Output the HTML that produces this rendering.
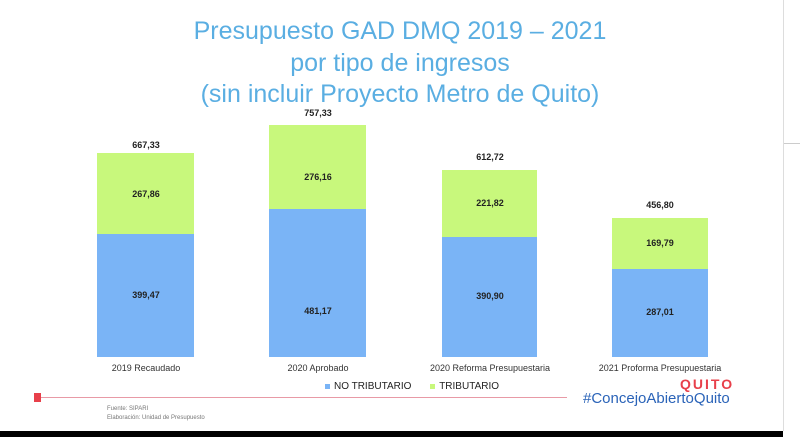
<!DOCTYPE html>
<html><head><meta charset="utf-8"><style>
body{margin:0;width:800px;height:437px;background:#fff;position:relative;overflow:hidden;font-family:"Liberation Sans",sans-serif}
.t{position:absolute;left:150px;width:500px;text-align:center;color:#5aaee2;font-size:25px;white-space:nowrap}
.b{position:absolute}
.g{background:#c8f87c}.bl{background:#7ab4f6}
.v{position:absolute;width:120px;text-align:center;font-size:9px;font-weight:bold;color:#222}
.c{position:absolute;width:160px;text-align:center;font-size:9px;color:#333}
</style></head><body>
<div class="t" style="top:17px">Presupuesto GAD DMQ 2019 – 2021</div>
<div class="t" style="top:49px">por tipo de ingresos</div>
<div class="t" style="top:80px">(sin incluir Proyecto Metro de Quito)</div>

<div class="b g" style="left:97px;top:153px;width:97px;height:81px"></div>
<div class="b bl" style="left:97px;top:234px;width:97px;height:123px"></div>
<div class="b g" style="left:269px;top:125px;width:97px;height:84px"></div>
<div class="b bl" style="left:269px;top:209px;width:97px;height:148px"></div>
<div class="b g" style="left:442px;top:170px;width:95px;height:67px"></div>
<div class="b bl" style="left:442px;top:237px;width:95px;height:120px"></div>
<div class="b g" style="left:612px;top:218px;width:96px;height:51px"></div>
<div class="b bl" style="left:612px;top:269px;width:96px;height:88px"></div>

<div class="v" style="left:86px;top:140px">667,33</div>
<div class="v" style="left:86px;top:189px">267,86</div>
<div class="v" style="left:86px;top:290px">399,47</div>
<div class="v" style="left:258px;top:108px">757,33</div>
<div class="v" style="left:258px;top:172px">276,16</div>
<div class="v" style="left:258px;top:306px">481,17</div>
<div class="v" style="left:430px;top:152px">612,72</div>
<div class="v" style="left:430px;top:198px">221,82</div>
<div class="v" style="left:430px;top:291px">390,90</div>
<div class="v" style="left:600px;top:200px">456,80</div>
<div class="v" style="left:600px;top:238px">169,79</div>
<div class="v" style="left:600px;top:307px">287,01</div>

<div class="c" style="left:66px;top:363px">2019 Recaudado</div>
<div class="c" style="left:238px;top:363px">2020 Aprobado</div>
<div class="c" style="left:410px;top:363px">2020 Reforma Presupuestaria</div>
<div class="c" style="left:580px;top:363px">2021 Proforma Presupuestaria</div>

<div style="position:absolute;left:325px;top:381px;font-size:10px;color:#222"><span style="display:inline-block;width:5px;height:5px;background:#7ab4f6;margin-right:4px"></span>NO TRIBUTARIO <span style="display:inline-block;width:5px;height:5px;background:#c8f87c;margin:0 4px 0 16px"></span>TRIBUTARIO</div>

<div style="position:absolute;left:34px;top:393px;width:7px;height:9px;background:#e8404a"></div>
<div style="position:absolute;left:41px;top:397px;width:526px;height:1px;background:#e89aa6"></div>
<div style="position:absolute;left:107px;top:405px;font-size:6px;color:#777;line-height:9px">Fuente: SIPARI<br>Elaboración: Unidad de Presupuesto</div>
<div style="position:absolute;left:583px;top:390px;font-size:15px;color:#2a63b8">#ConcejoAbiertoQuito</div>
<div style="position:absolute;left:680px;top:376px;font-size:14px;font-weight:bold;color:#e8404a;letter-spacing:2px">QUITO</div>
<div style="position:absolute;left:0;top:431px;width:783px;height:6px;background:#000"></div>
<div style="position:absolute;left:783px;top:0;width:1px;height:431px;background:#ddd"></div>
<div style="position:absolute;left:784px;top:143px;width:16px;height:1px;background:#ccc"></div>
</body></html>
